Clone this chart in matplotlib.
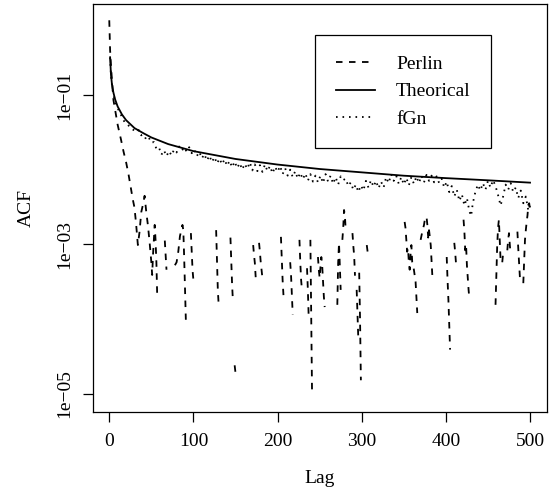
import numpy as np
import matplotlib
matplotlib.use("Agg")
import matplotlib.pyplot as plt
from matplotlib.ticker import NullLocator

plt.rcParams['font.family'] = ['Liberation Serif', 'DejaVu Serif']
plt.rcParams['font.size'] = 14

nan = np.nan

# Perlin sample ACF (log10), gaps = negative values dropped by the log axis
perlin_lag = [0, 1, 2, 3, 5, 8, 10, 14, 17, 20, 23, 26, 28, 30, 32, 34, 36, 38, 40, 42,
              44, 46, 48, 50, 51, 52, 54, 55, 56, 57, nan,
              66, 67, 68, nan,
              78, 80, 82, 84, 87, 88, 89, 90, 91, nan,
              97, 98, 99, 100, nan,
              127, 128, 129, 130, nan,
              144, 145, 146, 147, nan,
              149, 150, nan,
              171, 172, 173, 174, nan,
              178, 179, 180, 181, 182, nan,
              204, 205, 206, 207, nan,
              215, 216, 217, 218, nan,
              226, 227, 228, 229, nan,
              235, 236, 237, nan,
              239, 240, 241, nan,
              248, 249, 250, 251, 252, 253, 254, 255, 256, nan,
              271, 272, 273, 274, 275, nan,
              277, 278, 279, 280, 281, nan,
              289, 290, 291, 292, nan,
              294, 295, 296, nan,
              297, 298, 299, nan,
              306, 307, nan,
              351, 352, 353, 354, 355, 356, 357, 358, 359, 360, 362, 364, 365, 366, nan,
              370, 372, 374, 375, 377, 378, 379, 380, 382, 383, 384, nan,
              401, 402, 403, 404, 405, nan,
              410, 411, 412, nan,
              421, 422, 423, 424, 425, 426, 427, 428, nan,
              459, 460, 461, 462, 463, 464, 465, nan,
              467, 468, 469, nan,
              473, 474, 475, 476, 477, nan,
              485, 486, 487, 488, nan,
              492, 493, 494, 495, 496, 497, 498, 499, 500]
perlin_log10 = [0.0, -0.40, -0.60, -0.77, -1.07, -1.27, -1.40, -1.60, -1.76, -1.90, -2.07, -2.27, -2.40, -2.51, -2.74, -3.01, -2.83, -2.57, -2.47, -2.35,
                -2.57, -2.75, -2.98, -3.24, -3.41, -3.14, -2.74, -2.94, -3.24, -3.70, nan,
                -2.95, -3.15, -3.34, nan,
                -3.28, -3.24, -3.10, -2.89, -2.74, -2.81, -3.17, -3.61, -4.01, nan,
                -2.85, -3.10, -3.35, -3.48, nan,
                -2.81, -3.21, -3.61, -3.81, nan,
                -2.91, -3.25, -3.55, -3.77, nan,
                -4.62, -4.72, nan,
                -3.01, -3.14, -3.25, -3.44, nan,
                -2.98, -3.10, -3.24, -3.34, -3.45, nan,
                -2.90, -3.21, -3.48, -3.68, nan,
                -3.24, -3.41, -3.68, -3.94, nan,
                -2.94, -3.24, -3.48, -3.61, nan,
                -3.32, -3.61, -3.98, nan,
                -2.94, -3.94, -5.02, nan,
                -3.17, -3.34, -3.45, -3.30, -3.17, -3.28, -3.48, -3.70, -3.84, nan,
                -3.81, -3.25, -2.98, -3.30, -3.61, nan,
                -2.94, -2.78, -2.54, -2.62, -2.81, nan,
                -2.85, -3.02, -3.15, -3.42, nan,
                -3.61, -3.94, -4.28, nan,
                -3.38, -4.00, -4.82, nan,
                -3.01, -3.10, nan,
                -2.70, -2.78, -2.94, -3.10, -3.05, -3.24, -3.34, -3.14, -3.01, -3.24, -3.34, -3.50, -3.72, -3.92, nan,
                -2.94, -2.83, -2.74, -2.67, -2.63, -2.74, -2.91, -2.81, -3.01, -3.24, -3.44, nan,
                -3.17, -3.48, -3.74, -4.08, -4.41, nan,
                -2.98, -3.10, -3.25, nan,
                -2.67, -2.83, -3.08, -3.01, -3.28, -3.45, -3.61, -3.74, nan,
                -3.81, -3.41, -3.01, -2.78, -2.67, -2.94, -3.21, nan,
                -3.24, -3.12, -3.17, nan,
                -3.08, -2.94, -2.85, -3.01, -3.14, nan,
                -2.83, -3.05, -3.24, -3.45, nan,
                -3.52, -3.24, -2.94, -2.81, -2.70, -2.61, -2.47, -2.45, -2.54]

# theoretical ACF
theo_lag = [1, 2, 3, 4, 5, 7, 10, 15, 20, 30, 40, 50, 70, 100, 150, 200, 250, 300, 350, 400, 450, 500]
theo_acf = [0.32, 0.19, 0.146, 0.122, 0.107, 0.087, 0.070, 0.055, 0.046, 0.036, 0.031, 0.027,
            0.022, 0.0177, 0.0139, 0.0117, 0.0102, 0.0092, 0.0083, 0.0077, 0.0072, 0.0067]

# fGn sample ACF (log10)
fgn_lag = [1, 2, 3, 4, 5, 6, 8, 10, 12, 14, 16, 18, 20, 23, 26, 29, 32, 35, 38, 41, 44, 47, 50,
           53, 56, 59, 62, 65, 68, 71, 74, 77, 80, 83, 86, 89, 92, 95, 98, 101, 104, 107, 110,
           113, 116, 119, 122, 125, 128, 131, 134, 137, 140, 143, 146, 149, 152, 155, 158, 161,
           164, 167, 170, 173, 176, 179, 182, 185, 188, 191, 194, 197, 200, 203, 206, 209, 212,
           215, 218, 221, 224, 227, 230, 233, 236, 239, 242, 245, 248, 251, 254, 257, 260, 263,
           266, 269, 272, 275, 278, 281, 284, 287, 290, 293, 296, 299, 302, 305, 308, 311, 314,
           317, 320, 323, 326, 329, 332, 335, 338, 341, 344, 347, 350, 353, 356, 359, 362, 365,
           368, 371, 374, 377, 380, 383, 386, 389, 392, 395, 398, 401, 404, 407, 410, 413, 416,
           419, 422, 425, 428, 430, 432, 435, 438, 441, 444, 447, 450, 453, 456, 459, 462, 465,
           468, 471, 474, 477, 480, 483, 486, 489, 492, 495, 498, 500]
fgn_log10 = [-0.50, -0.73, -0.85, -0.93, -0.99, -1.04, -1.12, -1.18, -1.22, -1.27, -1.31, -1.36, -1.38, -1.41, -1.45, -1.47, -1.50, -1.47, -1.54, -1.53, -1.60, -1.57, -1.64,
             -1.63, -1.72, -1.70, -1.80, -1.74, -1.82, -1.75, -1.81, -1.73, -1.77, -1.69, -1.75, -1.70, -1.76, -1.70, -1.78, -1.73, -1.82, -1.76, -1.85,
             -1.79, -1.88, -1.81, -1.90, -1.83, -1.92, -1.85, -1.93, -1.86, -1.95, -1.88, -1.97, -1.89, -1.98, -1.91, -2.00, -1.92,
             -1.99, -1.90, -2.01, -1.93, -2.02, -1.94, -2.03, -1.93, -2.02, -1.95, -2.05, -1.96, -2.03, -1.95, -2.06, -1.98, -2.08,
             -2.00, -2.10, -2.02, -2.12, -2.04, -2.13, -2.05, -2.15, -2.06, -2.16, -2.08, -2.17, -2.08, -2.18, -2.06, -2.16, -2.08,
             -2.19, -2.10, -2.20, -2.09, -2.14, -2.12, -2.22, -2.17, -2.27, -2.20, -2.30, -2.21, -2.28, -2.15, -2.24, -2.14, -2.23,
             -2.15, -2.25, -2.16, -2.24, -2.10, -2.18, -2.06, -2.15, -2.08, -2.19, -2.10, -2.20, -2.11, -2.21, -2.10, -2.19, -2.09,
             -2.18, -2.08, -2.17, -2.07, -2.15, -2.08, -2.17, -2.09, -2.18, -2.12, -2.24, -2.16, -2.30, -2.22, -2.36, -2.27, -2.42,
             -2.33, -2.48, -2.38, -2.56, -2.62, -2.45, -2.30, -2.20, -2.28, -2.18, -2.27, -2.15, -2.24, -2.14, -2.22, -2.34, -2.48,
             -2.36, -2.20, -2.27, -2.18, -2.30, -2.24, -2.38, -2.28, -2.45, -2.36, -2.55, -2.48]

perlin_acf = 10.0 ** np.array(perlin_log10)
fgn_acf = 10.0 ** np.array(fgn_log10)

fig = plt.figure(figsize=(5.53, 4.95), dpi=100)
ax = fig.add_axes([0.1676, 0.1677, 0.8216, 0.8242])

lw = 1.3
ax.plot(perlin_lag, perlin_acf, color='black', lw=lw, dashes=(3.6, 3.6), label='Perlin')
ax.plot(theo_lag, theo_acf, color='black', lw=lw, label='Theorical')
ax.plot(fgn_lag, fgn_acf, color='black', lw=lw, dashes=(0.9, 2.7), label='fGn')

ax.set_yscale('log')
ax.set_xlim(-19.7, 520.2)
ax.set_ylim(10 ** -5.245, 10 ** 0.218)
ax.set_xticks([0, 100, 200, 300, 400, 500])
ax.set_yticks([1e-1, 1e-3, 1e-5])
ax.set_yticklabels(['1e\u221201', '1e\u221203', '1e\u221205'], rotation=90, va='center')
ax.yaxis.set_minor_locator(NullLocator())
ax.tick_params(direction='out', length=7.2, width=0.9, pad=8)
ax.tick_params(axis='y', pad=7)
for s in ax.spines.values():
    s.set_linewidth(0.9)

ax.set_xlabel('Lag')
ax.set_ylabel('ACF')
ax.xaxis.set_label_coords(0.5, -0.142)
ax.yaxis.set_label_coords(-0.127, 0.5)

leg = ax.legend(loc='upper right', bbox_to_anchor=(0.8767, 0.924), borderaxespad=0,
                fancybox=False, edgecolor='black', framealpha=1, borderpad=1.05,
                handlelength=2.0, handletextpad=1.1, labelspacing=0.5)
leg.get_frame().set_linewidth(0.9)

fig.savefig('out.png', dpi=100)
